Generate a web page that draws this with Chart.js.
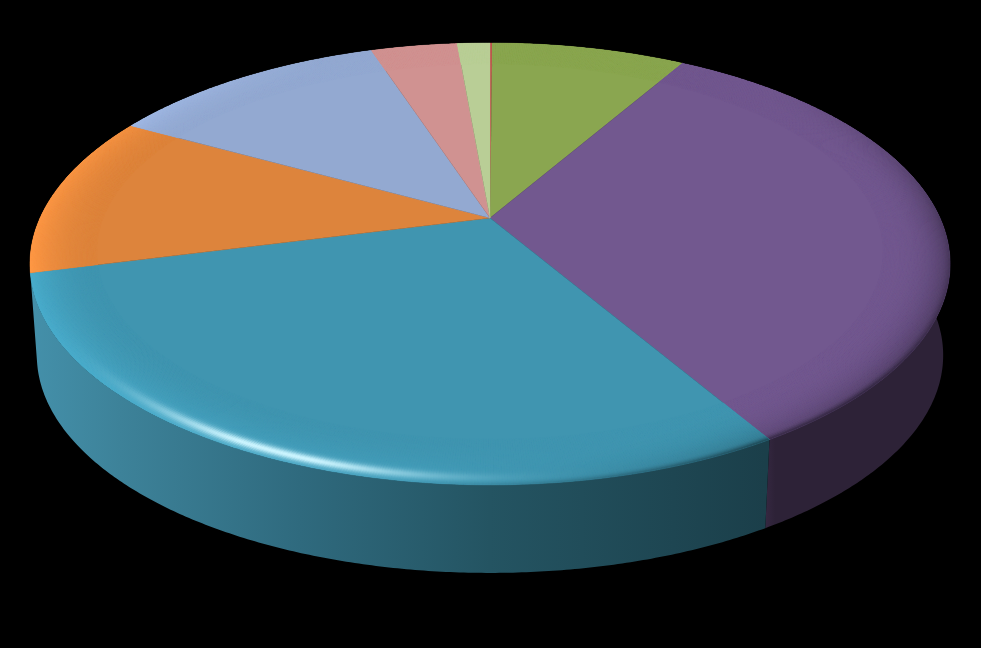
<!DOCTYPE html>
<html>
<head>
<meta charset="utf-8">
<title>Pie</title>
<script src="https://cdn.jsdelivr.net/npm/chart.js@4"></script>
<style>
    html, body { margin: 0; padding: 0; background: #000; }
    canvas { display: block; }
</style>
</head>
<body>
<canvas id="pie" width="981" height="648"></canvas>
<script>
// values, clockwise from 12 o'clock
const categories = ['A', 'B', 'C', 'D', 'E', 'F', 'G', 'H'];
const values = [0.1, 8.3, 33.0, 29.5, 11.9, 11.9, 3.7, 1.4];
const colors = ['#c0504d', '#8aa650', '#72588f', '#4095b0', '#dd843c', '#93a9d1', '#d09291', '#b9ce96'];

// colours of the outer wall, left to right on screen (only the front slices show)
const wallStops = {
    2: [[760, '#3a2b47'], [775, '#2d2237'], [950, '#2d2237']],
    3: [[30, '#4490aa'], [120, '#3d8299'], [300, '#2f6a7e'], [490, '#245462'], [765, '#1b3f4a']]
};

// perspective of the disc: unit circle -> screen
const apexX = 490, apexY = 218;
const persA = 211.4, persB = 0.208, halfW = 450;
const rimStart = 0.86;

function project(r, ang) {
    const X = r * Math.cos(ang), Y = r * Math.sin(ang);
    const d = 1 - persB * Y;
    return [apexX + halfW * X / d, apexY + persA * Y / d];
}

// same point on the lower rim of the disc
function lower(p) {
    return [apexX + (p[0] - apexX) * 0.985, 264 + (p[1] - 264) * 0.985 + 91.3];
}

function clamp(v) {
    return Math.max(0, Math.min(1, v));
}

function hexRgb(h) {
    return [parseInt(h.slice(1, 3), 16), parseInt(h.slice(3, 5), 16), parseInt(h.slice(5, 7), 16)];
}

// colour on the rounded edge, t goes 0..1 towards the outside
function rimColor(rgb, ang, t) {
    const X = Math.cos(ang), Y = Math.sin(ang);
    const lit = clamp(-X * 0.7 + Y * 0.35);
    const dark = clamp((X + 0.15) / 1.0) * clamp((Y + 0.7) / 0.7);
    const spec = Math.pow(clamp(-X * 0.4 + Y * 0.92), 26) * Math.exp(-Math.pow((t - 0.85) / 0.09, 2));
    const edge = clamp((t - 0.88) / 0.12) * clamp(Y + 0.3) * clamp(X + 0.5);
    const k = (1 + 0.2 * lit * t * t) * (1 - 0.3 * dark * t * t * t) * (1 - 0.4 * edge * edge);
    const white = [205, 245, 255];
    const out = rgb.map((c, i) => {
        const v = c * k;
        return Math.round(Math.min(255, v + (white[i] - v) * clamp(spec)));
    });
    return 'rgb(' + out.join(',') + ')';
}

function arcPoints(r, a0, a1) {
    const n = Math.max(2, Math.ceil((a1 - a0) / 0.008));
    const pts = [];
    for (let i = 0; i <= n; i++) {
        pts.push(project(r, a0 + (a1 - a0) * i / n));
    }
    return pts;
}

function tracePts(ctx, pts) {
    ctx.beginPath();
    pts.forEach((p, i) => i ? ctx.lineTo(p[0], p[1]) : ctx.moveTo(p[0], p[1]));
    ctx.closePath();
}

function drawWall(ctx, i, a0, a1) {
    const stops = wallStops[i];
    if (!stops) return;
    const top = arcPoints(1, a0, a1);
    const bottom = top.map(lower).reverse();
    const g = ctx.createLinearGradient(30, 0, 951, 0);
    stops.forEach(s => g.addColorStop((s[0] - 30) / 921, s[1]));
    tracePts(ctx, top.concat(bottom));
    ctx.fillStyle = g;
    ctx.fill();
}

function drawFace(ctx, i, a0, a1) {
    const rgb = hexRgb(colors[i]);
    const outline = [[apexX, apexY]].concat(arcPoints(1, a0, a1));
    tracePts(ctx, outline);
    ctx.fillStyle = colors[i];
    ctx.strokeStyle = colors[i];
    ctx.lineWidth = 0.4;
    ctx.fill();
    ctx.stroke();

    ctx.save();
    tracePts(ctx, outline);
    ctx.clip();
    const rings = 48;
    const steps = Math.max(1, Math.ceil((a1 - a0) / 0.005));
    for (let s = 0; s < steps; s++) {
        const b0 = a0 + (a1 - a0) * s / steps;
        const b1 = a0 + (a1 - a0) * (s + 1) / steps;
        for (let k = 0; k < rings; k++) {
            const r0 = rimStart + (1 - rimStart) * k / rings;
            const r1 = rimStart + (1 - rimStart) * (k + 1) / rings;
            const col = rimColor(rgb, (b0 + b1) / 2, (k + 0.5) / rings);
            tracePts(ctx, [project(r0, b0), project(r1, b0), project(r1, b1), project(r0, b1)]);
            ctx.fillStyle = col;
            ctx.strokeStyle = col;
            ctx.lineWidth = 1;
            ctx.fill();
            ctx.stroke();
        }
    }
    ctx.restore();
}

// the library lays out the slices, this draws each one on the tilted disc
const tiltedDisc = {
    id: 'tiltedDisc',
    beforeDatasetsDraw(chart) {
        const ctx = chart.ctx;
        const arcs = chart.getDatasetMeta(0).data;
        arcs.forEach((arc, i) => drawWall(ctx, i, arc.startAngle, arc.endAngle));
        arcs.forEach((arc, i) => drawFace(ctx, i, arc.startAngle, arc.endAngle));
        return false;
    }
};

new Chart(document.getElementById('pie').getContext('2d'), {
    type: 'pie',
    data: {
        labels: categories,
        datasets: [{ data: values, backgroundColor: colors, borderWidth: 0 }]
    },
    options: {
        responsive: false,
        animation: false,
        plugins: { legend: { display: false }, tooltip: { enabled: false } }
    },
    plugins: [tiltedDisc]
});
</script>
</body>
</html>
